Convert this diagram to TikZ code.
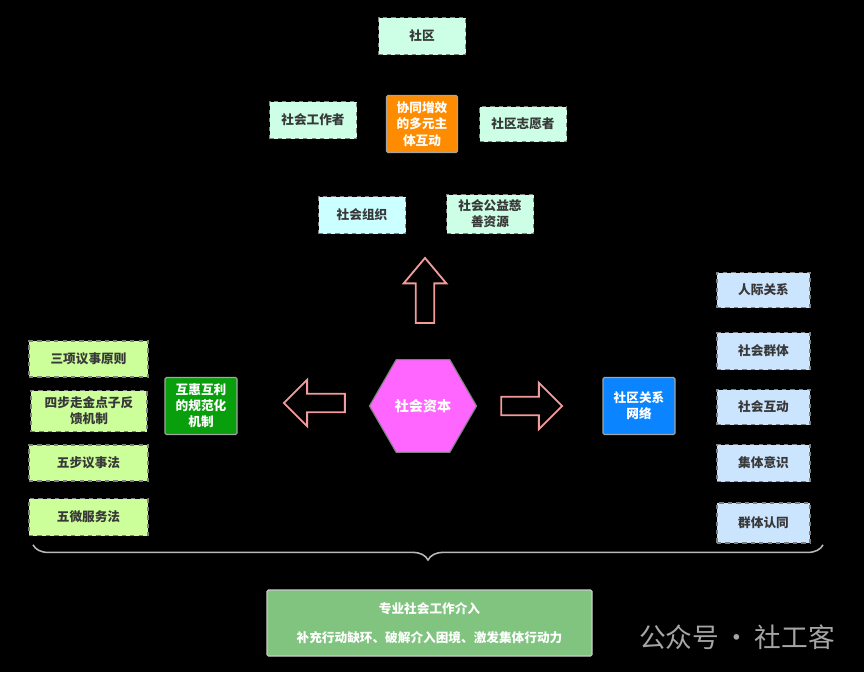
\documentclass[tikz,border=0pt]{standalone}
\usepackage{fontspec}
\setmainfont{Noto Sans CJK SC}
\usepackage{xcolor}
\definecolor{mint}{HTML}{CCFFE6}
\definecolor{aqua}{HTML}{CCFFFF}
\definecolor{palelime}{HTML}{CCFF99}
\definecolor{sky}{HTML}{CCE5FF}
\definecolor{amber}{HTML}{FF8C00}
\definecolor{leaf}{HTML}{089E0C}
\definecolor{azure}{HTML}{0A84FF}
\definecolor{orchid}{HTML}{FF66FF}
\definecolor{sage}{HTML}{80C480}
\definecolor{rose}{HTML}{F39A9A}
\definecolor{ash}{HTML}{7F7F7F}
\definecolor{ink}{HTML}{383838}
\usepackage{tikz}
\usetikzlibrary{shapes.geometric,shapes.arrows,decorations.pathreplacing}
\tikzset{
  tag/.style    ={draw=ash,dashed,line width=0.9pt,fill=mint,text=ink,
                  font=\fontsize{9}{11.5}\selectfont\bfseries,align=center,
                  minimum width=21.75mm,minimum height=9.25mm,inner sep=2pt},
  hub/.style    ={draw=ash!70,line width=0.8pt,text=white,rounded corners=1pt,
                  font=\fontsize{9}{11.5}\selectfont\bfseries,align=center,
                  minimum width=18mm,minimum height=14.25mm,inner sep=2pt},
  bigarrow/.style={single arrow,draw=rose,fill=black,line width=1.3pt,
                  inner sep=2.1mm,single arrow head extend=3.5mm},
  bracket/.style={draw=gray!55,line width=1.1pt,decorate,
                  decoration={brace,amplitude=3.8mm,mirror}},
}
\begin{document}
\begin{tikzpicture}
\fill[black] (0,0) rectangle (21.6,-16.8);
\useasboundingbox (0,0) rectangle (21.6,-16.8);
% actors
\node[tag] (community) at (10.55,-0.90) {社区};
\node[tag] (worker) at (7.825,-3.00) {社会工作者};
\node[hub,fill=amber,minimum width=17.75mm] (synergy) at (10.55,-3.10)
  {协同增效\\的多元主\\体互动};
\node[tag,minimum height=8.75mm] (volunteer) at (13.075,-3.10) {社区志愿者};
\node[tag,fill=aqua] (organisation) at (9.05,-5.375) {社会组织};
\node[tag,minimum height=9.75mm] (charity) at (12.25,-5.35) {社会公益慈\\善资源};
% social capital
\node[regular polygon,regular polygon sides=6,minimum size=26mm,fill=orchid,
      draw=ash,line width=0.8pt,text=white,font=\fontsize{10}{12}\selectfont\bfseries]
  (capital) at (10.575,-10.15) {社会资本};
\node[bigarrow,shape border rotate=90,minimum height=16.25mm,
      single arrow head extend=3mm,single arrow tip angle=80] (uparrow) at (10.625,-7.4) {};
\node[bigarrow,shape border rotate=180,minimum height=15.25mm] (leftarrow) at (7.975,-10.075) {};
\node[bigarrow,minimum height=15.25mm] (rightarrow) at (13.175,-10.15) {};
\node[hub,fill=leaf] (norms) at (5.025,-10.15) {互惠互利\\的规范化\\机制};
\node[hub,fill=azure] (network) at (15.975,-10.15) {社区关系\\网络};
% norms
\node[tag,fill=palelime,minimum width=29.75mm,minimum height=9mm] (rule1) at (2.2125,-8.975) {三项议事原则};
\node[tag,fill=palelime,minimum width=29mm,minimum height=10.25mm] (rule2) at (2.225,-10.275) {四步走金点子反\\馈机制};
\node[tag,fill=palelime,minimum width=29.75mm,minimum height=9mm] (rule3) at (2.2125,-11.575) {五步议事法};
\node[tag,fill=palelime,minimum width=29.75mm,minimum height=9.25mm] (rule4) at (2.2125,-12.925) {五微服务法};
% network
\node[tag,fill=sky,minimum width=23.25mm,minimum height=8.75mm] (tie1) at (19.0875,-7.25) {人际关系};
\node[tag,fill=sky,minimum width=23.25mm,minimum height=9.25mm] (tie2) at (19.0875,-8.775) {社会群体};
\node[tag,fill=sky,minimum width=23.25mm,minimum height=8.75mm] (tie3) at (19.0875,-10.175) {社会互动};
\node[tag,fill=sky,minimum width=23.25mm,minimum height=9.25mm] (tie4) at (19.0875,-11.575) {集体意识};
\node[tag,fill=sky,minimum width=23.25mm,minimum height=10mm] (tie5) at (19.0875,-13.075) {群体认同};
% intervention
\coordinate (bl) at (0.825,-13.62);
\coordinate (br) at (20.575,-13.62);
\draw[bracket] (bl) -- (br);
\node[hub,fill=sage,draw=gray!40,minimum width=81.25mm,minimum height=16.5mm]
  (intervention) at (10.7375,-15.575) {专业社会工作介入\\[3.4mm]补充行动缺环、破解介入困境、激发集体行动力};
\node[text=gray!70,font=\fontsize{19}{22}\selectfont] (mark) at (18.425,-15.925) {公众号\,·\,社工客};
\end{tikzpicture}
\end{document}
